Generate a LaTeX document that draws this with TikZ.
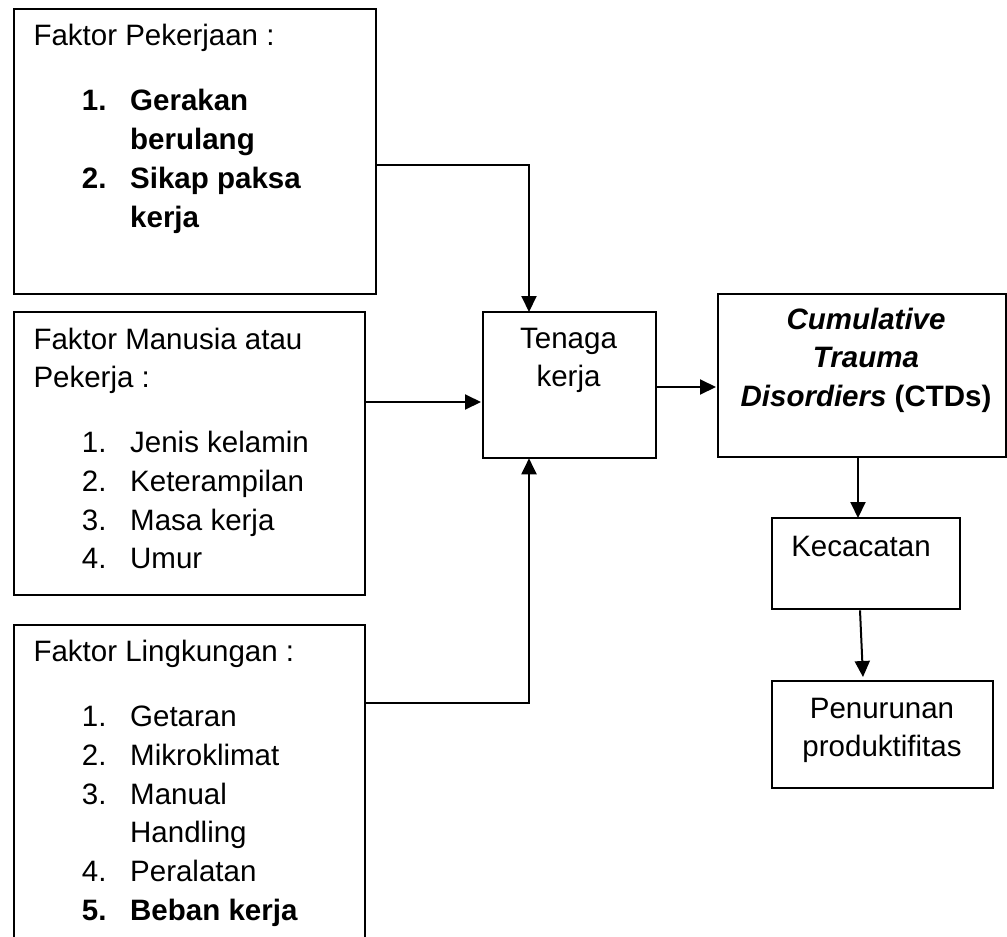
\documentclass[tikz,border=0pt]{standalone}
\usepackage{fontspec}
\setmainfont{Liberation Sans}
\usetikzlibrary{arrows.meta}
\newcommand\dfont{\fontsize{29.5pt}{38.7pt}\selectfont}
\newcommand\itm[2]{\hspace*{48.4pt}\makebox[48.3pt][l]{#1}#2}
\newcommand\cnt[1]{\hspace*{96.7pt}#1}
\tikzset{
  box/.style={draw, line width=2.3pt, rectangle, inner sep=0pt, anchor=north west},
  txt/.style={inner sep=0pt, anchor=base west, font=\dfont},
  ctxt/.style={inner sep=0pt, anchor=base, font=\dfont},
  arr/.style={line width=2pt, -{Triangle[length=16pt,width=15pt]}}
}
\begin{document}
\begin{tikzpicture}[x=1pt,y=-1pt]
\useasboundingbox (0,0) rectangle (1007,937);
\clip (0,0) rectangle (1007,937);
\fill[white] (0,0) rectangle (1007,937);
% boxes
\node[box, minimum width=362pt, minimum height=285pt] (b1) at (13,8) {};
\node[box, minimum width=351pt, minimum height=283pt] (b2) at (13,311) {};
\node[box, minimum width=351pt, minimum height=330pt] (b3) at (13,624) {};
\node[box, minimum width=173pt, minimum height=146pt] (tk) at (482,311) {};
\node[box, minimum width=288pt, minimum height=163pt] (ctd) at (717,293) {};
\node[box, minimum width=188pt, minimum height=91pt] (kec) at (771,517) {};
\node[box, minimum width=221pt, minimum height=107pt] (pen) at (771,680) {};
% texts
\node[txt] (t1) at (33.3,45.7) {\parbox[t]{330pt}{\dfont Faktor Pekerjaan :\\[26.5pt]
\itm{\textbf{1.}}{\textbf{Gerakan}}\\
\cnt{\textbf{berulang}}\\
\itm{\textbf{2.}}{\textbf{Sikap paksa}}\\
\cnt{\textbf{kerja}}}};
\node[txt] (t2) at (33.3,349) {\parbox[t]{330pt}{\dfont Faktor Manusia atau\\
Pekerja :\\[26.3pt]
\itm{1.}{Jenis kelamin}\\
\itm{2.}{Keterampilan}\\
\itm{3.}{Masa kerja}\\
\itm{4.}{Umur}}};
\node[txt] (t3) at (33.3,661.7) {\parbox[t]{330pt}{\dfont Faktor Lingkungan :\\[26.3pt]
\itm{1.}{Getaran}\\
\itm{2.}{Mikroklimat}\\
\itm{3.}{Manual}\\
\cnt{Handling}\\
\itm{4.}{Peralatan}\\
\itm{\textbf{5.}}{\textbf{Beban kerja}}}};
\node[ctxt] (t4) at (568.5,348) {\parbox[t]{160pt}{\centering\dfont Tenaga\\kerja}};
\node[ctxt] (t5) at (866,329) {\parbox[t]{280pt}{\centering\dfont \textbf{\textit{Cumulative}}\\
\textbf{\textit{Trauma}}\\
\textbf{\textit{Disordiers}} \textbf{(CTDs)}}};
\node[ctxt] (t6) at (861,556) {Kecacatan};
\node[ctxt] (t7) at (882,718) {\parbox[t]{215pt}{\centering\dfont Penurunan\\produktifitas}};
% connectors
\coordinate (j1) at (529,165);
\coordinate (j3) at (529,703);
\coordinate (a2) at (420,402);
\coordinate (a4) at (680,387);
\coordinate (a5) at (858,480);
\coordinate (a6) at (860,640);
\coordinate (a7) at (863,640);
\draw[arr] (b1.east |- j1) -- (j1) -- ([yshift=-1pt]tk.north -| j1);
\draw[arr] (b2.east |- a2) -- ([xshift=-1pt]tk.west |- a2);
\draw[arr] (b3.east |- j3) -- (j3) -- ([yshift=1pt]tk.south -| j3);
\draw[arr] (tk.east |- a4) -- ([xshift=-1pt]ctd.west |- a4);
\draw[arr] (ctd.south -| a5) -- ([yshift=-1pt]kec.north -| a5);
\draw[arr] (kec.south -| a6) -- ([yshift=3pt]pen.north -| a7);
\end{tikzpicture}
\end{document}
